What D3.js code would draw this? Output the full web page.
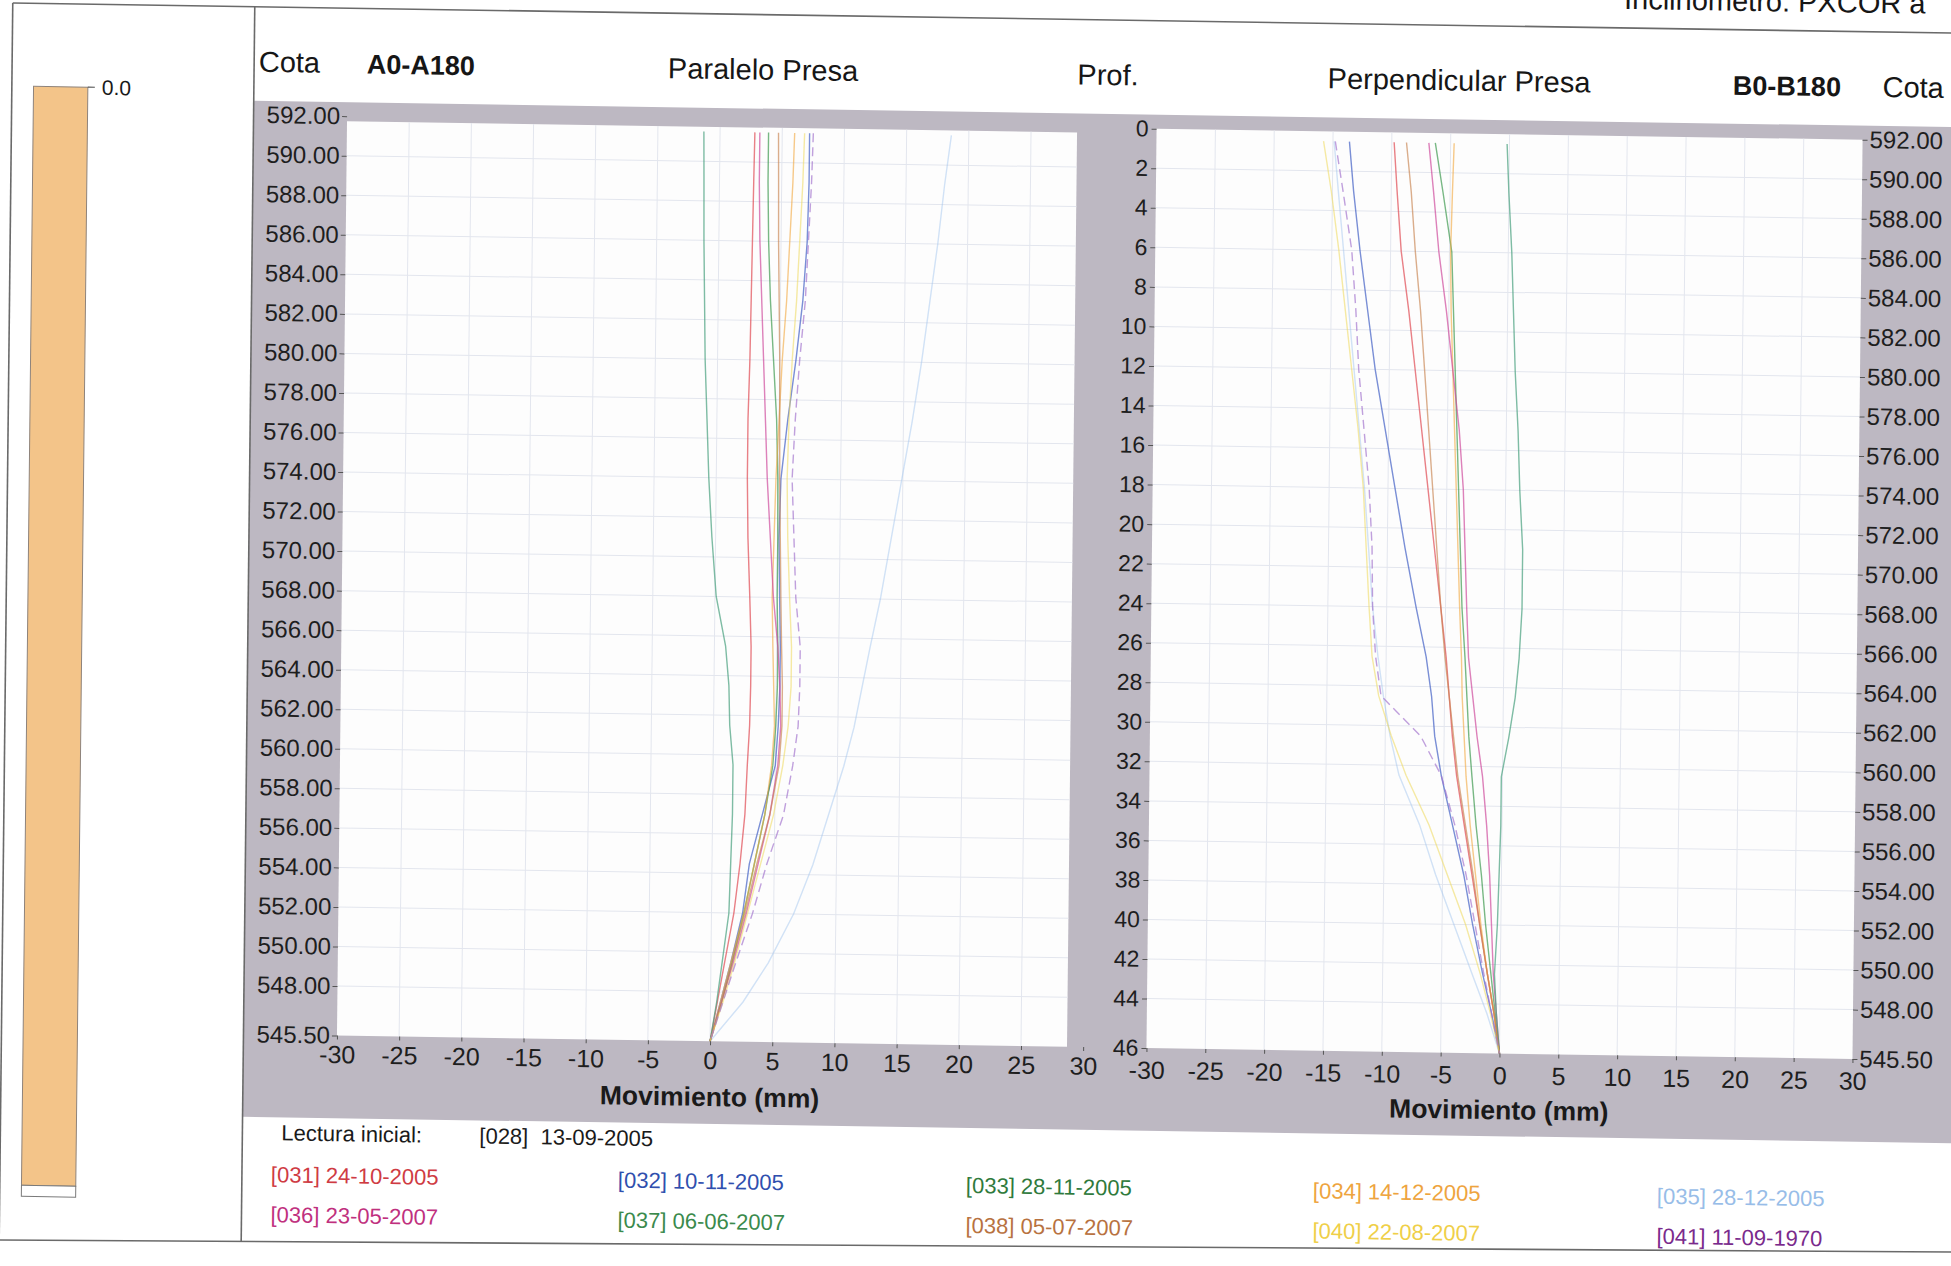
<!DOCTYPE html>
<html><head><meta charset="utf-8">
<script src="https://cdn.jsdelivr.net/npm/d3@7"></script>
<style>
html,body{margin:0;padding:0;background:#fff;}
svg{display:block;}
text{font-family:"Liberation Sans", Arial, Helvetica, sans-serif;}
</style></head><body>
<svg id="chart" width="1951" height="1266"></svg>
<script>
// ---------------- DATA ----------------
const cotaLevels = [591.5, 589, 586, 583, 580, 577, 574, 571, 568, 565.5, 563.5, 561.5, 559.5, 557, 554.5, 552, 549.5, 547.5, 545.5];
const readingIds   = ["031","032","033","034","035","036","037","038","040","041"];
const readingDates = ["24-10-2005","10-11-2005","28-11-2005","14-12-2005","28-12-2005","23-05-2007","06-06-2007","05-07-2007","22-08-2007","11-09-1970"];
const initialReading = ["028", "13-09-2005"];

// A0-A180 (Paralelo Presa), mm
const a031 = [2.8, 2.75, 2.7, 2.65, 2.6, 2.5, 2.5, 2.6, 2.8, 2.95, 2.95, 2.9, 2.75, 2.6, 2.25, 1.8, 1.1, 0.55, 0];
const a032 = [7.2, 7.2, 7.1, 6.8, 6.3, 5.7, 5.2, 5.1, 5.2, 5.3, 5.3, 5.2, 5.0, 4.0, 3.0, 2.5, 1.6, 0.8, 0];
const a033 = [3.9, 3.9, 4.0, 4.2, 4.5, 4.8, 4.95, 5.0, 5.0, 5.1, 5.1, 5.0, 4.8, 4.2, 3.4, 2.6, 1.7, 0.9, 0];
const a034 = [6.0, 5.9, 5.7, 5.5, 5.2, 5.0, 4.8, 4.7, 4.6, 4.7, 4.8, 4.9, 4.7, 4.2, 3.4, 2.6, 1.6, 0.8, 0];
const a035 = [18.6, 18.1, 17.6, 17.0, 16.4, 15.7, 14.9, 14.1, 13.3, 12.5, 11.9, 11.3, 10.5, 9.3, 8.1, 6.6, 4.6, 2.6, 0];
const a036 = [3.2, 3.2, 3.3, 3.5, 3.7, 3.9, 4.1, 4.4, 4.7, 5.1, 5.3, 5.4, 5.2, 4.6, 3.7, 2.8, 1.8, 0.9, 0];
const a037 = [-1.3, -1.25, -1.2, -1.1, -1.0, -0.8, -0.6, -0.3, 0.1, 0.9, 1.2, 1.3, 1.6, 1.6, 1.5, 1.4, 0.9, 0.5, 0];
const a038 = [4.7, 4.75, 4.8, 4.9, 5.0, 5.05, 5.1, 5.2, 5.3, 5.4, 5.5, 5.5, 5.3, 4.6, 3.6, 2.7, 1.7, 0.9, 0];
const a040 = [6.8, 6.7, 6.5, 6.3, 6.0, 5.8, 5.7, 5.8, 6.0, 6.2, 6.2, 6.0, 5.6, 4.9, 3.9, 2.9, 1.9, 1.0, 0];
const a041 = [7.5, 7.4, 7.2, 7.0, 6.6, 6.3, 6.1, 6.3, 6.5, 6.9, 6.9, 6.8, 6.4, 5.7, 4.4, 3.3, 2.0, 1.0, 0];

// B0-B180 (Perpendicular Presa), mm
const b031 = [-9.8, -9.5, -9.1, -8.4, -7.8, -7.2, -6.6, -6.0, -5.4, -4.9, -4.6, -4.3, -3.9, -3.2, -2.5, -1.8, -1.1, -0.5, 0];
const b032 = [-13.6, -13.2, -12.6, -11.9, -11.2, -10.3, -9.4, -8.5, -7.5, -6.6, -6.1, -5.8, -5.2, -4.2, -3.2, -2.4, -1.5, -0.7, 0];
const b033 = [-6.3, -5.6, -4.8, -4.6, -4.4, -4.2, -4.0, -3.8, -3.6, -3.3, -3.1, -2.9, -2.6, -2.2, -1.7, -1.3, -0.8, -0.4, 0];
const b034 = [-4.7, -4.8, -4.9, -4.8, -4.6, -4.4, -4.2, -4.0, -3.8, -3.6, -3.5, -3.3, -3.1, -2.7, -2.2, -1.7, -1.1, -0.5, 0];
const b035 = [-14.9, -14.5, -14.0, -13.5, -13.0, -12.5, -12.0, -11.6, -11.2, -10.7, -10.2, -9.6, -8.8, -7.0, -5.6, -4.0, -2.4, -1.1, 0];
const b036 = [-6.85, -6.4, -5.9, -5.2, -4.6, -4.0, -3.6, -3.4, -3.2, -3.0, -2.6, -2.2, -1.7, -1.3, -1.0, -0.8, -0.6, -0.3, 0];
const b037 = [-0.2, 0.0, 0.3, 0.5, 0.7, 1.0, 1.2, 1.5, 1.5, 1.3, 1.0, 0.5, -0.1, -0.1, -0.2, -0.3, -0.5, -0.3, 0];
const b038 = [-8.75, -8.3, -7.9, -7.4, -7.0, -6.6, -6.2, -5.8, -5.4, -5.0, -4.6, -4.2, -3.8, -3.1, -2.4, -1.8, -1.1, -0.5, 0];
const b040 = [-15.8, -15.1, -14.4, -13.8, -13.2, -12.6, -12.1, -11.8, -11.5, -11.2, -10.6, -9.5, -8.2, -6.2, -4.6, -3.0, -1.7, -0.8, 0];
const b041 = [-14.8, -14.1, -13.3, -12.9, -12.6, -12.1, -11.6, -11.3, -11.2, -10.9, -10.4, -7.0, -5.2, -4.0, -3.0, -2.2, -1.4, -0.7, 0];

// axis ticks
const moveTicks = [-30, -25, -20, -15, -10, -5, 0, 5, 10, 15, 20, 25, 30];
const cotaTicks = [592, 590, 588, 586, 584, 582, 580, 578, 576, 574, 572, 570, 568, 566, 564, 562, 560, 558, 556, 554, 552, 550, 548, 545.5];
const depthTickPos = [0, 2, 4, 6, 8, 10, 12, 14, 16, 18, 20, 22, 24, 26, 28, 30, 32, 34, 36, 38, 40, 42, 44, 46.5];
const depthTickLabels = ["0","2","4","6","8","10","12","14","16","18","20","22","24","26","28","30","32","34","36","38","40","42","44","46"];
const barTickLabels = ["0.0"];

// ---------------- STYLE ----------------
const lineColor = {"031":"#e04a52","032":"#4160c4","033":"#3f9a50","034":"#f2a63c","035":"#9cc2ee",
  "036":"#cf4c9c","037":"#47a07e","038":"#c8824e","040":"#efd85a","041":"#a577cf"};
const lineOpacity = {"031":0.7,"032":0.7,"033":0.7,"034":0.6,"035":0.45,"036":0.7,"037":0.7,"038":0.65,"040":0.55,"041":0.7};
const textColor = {"031":"#cf3b43","032":"#2f4fae","033":"#2f7a3c","034":"#eea43e","035":"#98bde8",
  "036":"#c0307e","037":"#3a8a4c","038":"#b8723f","040":"#efcf48","041":"#7a2a8c"};

const seriesA = {"031":a031,"032":a032,"033":a033,"034":a034,"035":a035,"036":a036,"037":a037,"038":a038,"040":a040,"041":a041};
const seriesB = {"031":b031,"032":b032,"033":b033,"034":b034,"035":b035,"036":b036,"037":b037,"038":b038,"040":b040,"041":b041};

// ---------------- DRAW ----------------
const svg = d3.select("#chart");
const FONT = '"Liberation Sans", Arial, sans-serif';

// page-level bottom frame line (scan is skewed)
svg.append("line").attr("x1",0).attr("y1",1240).attr("x2",1951).attr("y2",1252)
  .attr("stroke","#6a6a6a").attr("stroke-width",1.6);

const g = svg.append("g").attr("transform","matrix(1,0.0155,-0.011,1,6.963,-15.11)");

const xA = d3.scaleLinear().domain([-30, 30]).range([341.5, 1087.7]);
const xB = d3.scaleLinear().domain([-30, 30]).range([1151, 1857]);
const yC = d3.scaleLinear().domain([592, 545.5]).range([126, 1045.3]);
const yD = d3.scaleLinear().domain([0, 46.5]).range([126, 1045.3]);

// gray panel
g.append("rect").attr("x",248).attr("y",112).attr("width",1900).attr("height",1016).attr("fill","#bdb8c2");

// white plot areas
const whiteA = {x0: xA(-30), x1: xA(28.7), y0: 131, y1: yC(545.5)};
const whiteB = {x0: xB(-30), x1: xB(30), y0: 126, y1: yC(545.5)};
[whiteA, whiteB].forEach(w => {
  g.append("rect").attr("x",w.x0).attr("y",w.y0).attr("width",w.x1-w.x0).attr("height",w.y1-w.y0).attr("fill","#fdfdfd");
});

// grids
function grid(x, w) {
  const gg = g.append("g").attr("stroke","#e3e6ee").attr("stroke-width",1);
  moveTicks.filter(t => x(t) > w.x0 + 1 && x(t) < w.x1 - 1).forEach(t => {
    gg.append("line").attr("x1",x(t)).attr("x2",x(t)).attr("y1",w.y0).attr("y2",w.y1);
  });
  cotaTicks.filter(c => yC(c) > w.y0 + 1 && yC(c) < w.y1 - 1).forEach(c => {
    gg.append("line").attr("x1",w.x0).attr("x2",w.x1).attr("y1",yC(c)).attr("y2",yC(c));
  });
}
grid(xA, whiteA);
grid(xB, whiteB);

// lines
function drawSeries(x, data) {
  const line = d3.line().x(d => x(d)).y((d, i) => yC(cotaLevels[i]));
  readingIds.forEach(id => {
    g.append("path").datum(data[id]).attr("d", line)
      .attr("fill","none").attr("stroke", lineColor[id]).attr("stroke-width",1.4)
      .attr("stroke-opacity",lineOpacity[id])
      .attr("stroke-dasharray", id === "041" ? "9,5" : null);
  });
}
drawSeries(xA, seriesA);
drawSeries(xB, seriesB);

// axes
function styleAxis(sel, size) {
  sel.select(".domain").remove();
  sel.selectAll(".tick line").attr("stroke","#555");
  sel.selectAll(".tick text").attr("font-size",size).attr("fill","#1e1e1e").attr("font-family",FONT);
}
const fmtMove = d => String(d);
g.append("g").attr("transform",`translate(0,${yC(545.5)})`)
  .call(d3.axisBottom(xA).tickValues(moveTicks).tickFormat(fmtMove).tickSize(4).tickPadding(6))
  .call(s => styleAxis(s, 25));
g.append("g").attr("transform",`translate(0,${yC(545.5)})`)
  .call(d3.axisBottom(xB).tickValues(moveTicks).tickFormat(fmtMove).tickSize(4).tickPadding(9))
  .call(s => styleAxis(s, 25));
g.append("g").attr("transform",`translate(${xA(-30)},0)`)
  .call(d3.axisLeft(yC).tickValues(cotaTicks).tickFormat(d => d.toFixed(2)).tickSize(5).tickPadding(2))
  .call(s => styleAxis(s, 24));
g.append("g").attr("transform",`translate(${xB(-30)},0)`)
  .call(d3.axisLeft(yD).tickValues(depthTickPos).tickFormat((d, i) => depthTickLabels[i]).tickSize(5).tickPadding(3))
  .call(s => styleAxis(s, 23));
g.append("g").attr("transform",`translate(${xB(30)},0)`)
  .call(d3.axisRight(yC).tickValues(cotaTicks).tickFormat(d => d.toFixed(2)).tickSize(5).tickPadding(2))
  .call(s => styleAxis(s, 24));

// axis titles
g.append("text").attr("x",xA(0)).attr("y",1110).attr("text-anchor","middle")
  .attr("font-size",26.5).attr("font-weight","bold").attr("fill","#1a1a1a").text("Movimiento (mm)");
g.append("text").attr("x",xB(0)).attr("y",1111).attr("text-anchor","middle")
  .attr("font-size",26.5).attr("font-weight","bold").attr("fill","#1a1a1a").text("Movimiento (mm)");

// headers
const hdr = [
  {t:"Cota", x:252.7, b:false},
  {t:"A0-A180", x:360.7, b:true},
  {t:"Paralelo Presa", x:661.8, b:false},
  {t:"Prof.", x:1071.3, b:false},
  {t:"Perpendicular Presa", x:1321.5, b:false},
  {t:"B0-B180", x:1726.8, b:true},
  {t:"Cota", x:1876.4, b:false}
];
hdr.forEach(h => {
  g.append("text").attr("x",h.x).attr("y",83).attr("font-size", h.b ? 27 : 29)
    .attr("font-weight", h.b ? "bold" : "normal").attr("fill","#161616").text(h.t);
});
g.append("text").attr("x",1617).attr("y",-1).attr("font-size",29).attr("fill","#161616").text("Inclinómetro: PXCOR a");

// legend
g.append("text").attr("x",287).attr("y",1151).attr("font-size",22).attr("fill","#1a1a1a").text("Lectura inicial:");
g.append("text").attr("x",485).attr("y",1151).attr("font-size",22).attr("fill","#1a1a1a")
  .attr("xml:space","preserve").text(`[${initialReading[0]}]  ${initialReading[1]}`);
const legCols = [277, 624, 972, 1319, 1663];
const legRows = [1193, 1233];
readingIds.forEach((id, i) => {
  const col = i % 5, row = Math.floor(i / 5);
  g.append("text").attr("x",legCols[col]).attr("y",legRows[row]).attr("font-size",22)
    .attr("fill", textColor[id]).text(`[${id}] ${readingDates[i]}`);
});

// color bar
g.append("rect").attr("x",27.7).attr("y",101).attr("width",54.3).attr("height",1099)
  .attr("fill","#f3c489").attr("stroke","#8e837b").attr("stroke-width",1);
g.append("rect").attr("x",27.7).attr("y",1200).attr("width",54.3).attr("height",11)
  .attr("fill","#fff").attr("stroke","#7a7a7a").attr("stroke-width",1);
g.append("line").attr("x1",82).attr("x2",89).attr("y1",101).attr("y2",101).attr("stroke","#555").attr("stroke-width",1.2);
g.append("text").attr("x",96).attr("y",108.5).attr("font-size",21).attr("fill","#1a1a1a").text(barTickLabels[0]);

// frame lines
const fr = g.append("g").attr("stroke","#6a6a6a").attr("stroke-width",1.6);
fr.append("line").attr("x1",6).attr("x2",2200).attr("y1",18).attr("y2",18);
fr.append("line").attr("x1",6).attr("x2",6).attr("y1",18).attr("y2",1255);
fr.append("line").attr("x1",248).attr("x2",248).attr("y1",18).attr("y2",1253);
</script>
</body></html>
